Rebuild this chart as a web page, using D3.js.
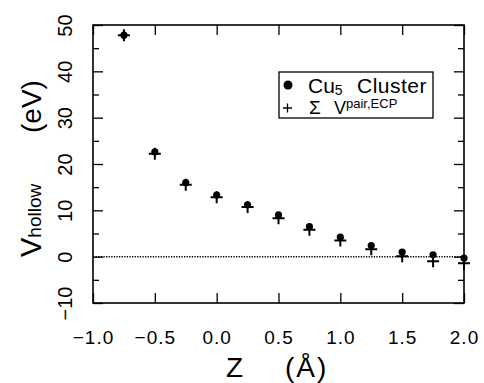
<!DOCTYPE html>
<html>
<head>
<meta charset="utf-8">
<script src="https://cdn.jsdelivr.net/npm/d3@7/dist/d3.min.js"></script>
<style>
  body { margin: 0; background: #fff; }
  svg { display: block; }
  text { font-family: "Liberation Sans", Arial, sans-serif; fill: #000; }
  .axis path { display: none; }
  .axis line { stroke: #000; stroke-width: 1.3; }
</style>
</head>
<body>
<script>
//data
var zValues = [-0.75, -0.5, -0.25, 0, 0.25, 0.5, 0.75, 1.0, 1.25, 1.5, 1.75, 2.0];
var clusterValues = [47.8, 22.6, 16.0, 13.3, 11.2, 9.0, 6.5, 4.2, 2.4, 1.0, 0.4, -0.3];
var pairValues = [47.8, 22.2, 15.5, 12.8, 10.7, 8.3, 5.8, 3.5, 1.6, 0.1, -1.0, -1.4];
var xTicks = [-1.0, -0.5, 0, 0.5, 1.0, 1.5, 2.0];
var yTicks = [-10, 0, 10, 20, 30, 40, 50];
var yMinorTicks = [-5, 5, 15, 25, 35, 45];

window.onload = drawChart();

function drawChart(){
    var width = 484,
        height = 383,
        left = 93,
        right = 464,
        top = 25,
        bottom = 303;

    var svg = d3.select("body")
        .append("svg")
        .attr("width", width)
        .attr("height", height);

    var x = d3.scaleLinear().domain([-1, 2]).range([left, right]);
    var y = d3.scaleLinear().domain([-10, 50]).range([bottom, top]);

    //ticks pointing inward on all four sides
    var fmtX = d3.format(".1f");
    var fmtY = d3.format("d");

    svg.append("g")
        .attr("class", "axis")
        .attr("transform", "translate(0," + bottom + ")")
        .call(d3.axisBottom(x).tickValues(xTicks).tickFormat(fmtX)
            .tickSizeInner(-10).tickSizeOuter(0).tickPadding(28))
        .selectAll("text")
        .style("font-size", "19px")
        .style("letter-spacing", "1px");

    svg.append("g")
        .attr("class", "axis")
        .attr("transform", "translate(0," + top + ")")
        .call(d3.axisTop(x).tickValues(xTicks).tickFormat("")
            .tickSizeInner(-10).tickSizeOuter(0));

    var yLeft = svg.append("g")
        .attr("class", "axis")
        .attr("transform", "translate(" + left + ",0)")
        .call(d3.axisLeft(y).tickValues(yTicks).tickFormat(fmtY)
            .tickSizeInner(-10).tickSizeOuter(0));
    yLeft.selectAll("text")
        .attr("x", null)
        .attr("dy", null)
        .attr("text-anchor", "middle")
        .attr("transform", "translate(-21,0) rotate(-90)")
        .style("font-size", "20px");

    svg.append("g")
        .attr("class", "axis")
        .attr("transform", "translate(" + left + ",0)")
        .call(d3.axisLeft(y).tickValues(yMinorTicks).tickFormat("")
            .tickSizeInner(-6).tickSizeOuter(0));

    svg.append("g")
        .attr("class", "axis")
        .attr("transform", "translate(" + right + ",0)")
        .call(d3.axisRight(y).tickValues(yTicks).tickFormat("")
            .tickSizeInner(-10).tickSizeOuter(0));

    svg.append("g")
        .attr("class", "axis")
        .attr("transform", "translate(" + right + ",0)")
        .call(d3.axisRight(y).tickValues(yMinorTicks).tickFormat("")
            .tickSizeInner(-6).tickSizeOuter(0));

    //frame
    svg.append("rect")
        .attr("x", left)
        .attr("y", top)
        .attr("width", right - left)
        .attr("height", bottom - top)
        .attr("fill", "none")
        .attr("stroke", "#000")
        .attr("stroke-width", 1.6);

    //dotted zero line
    svg.append("line")
        .attr("x1", left)
        .attr("x2", right)
        .attr("y1", y(0))
        .attr("y2", y(0))
        .attr("stroke", "#000")
        .attr("stroke-width", 1.5)
        .attr("stroke-dasharray", "1.3,1.3");

    //cluster points (filled dots)
    svg.selectAll(".dot")
        .data(zValues)
        .enter()
        .append("circle")
        .attr("class", "dot")
        .attr("cx", function(d){ return x(d); })
        .attr("cy", function(d, i){ return y(clusterValues[i]); })
        .attr("r", 3.6)
        .attr("fill", "#000");

    //pair sum points (plus signs)
    svg.selectAll(".plus")
        .data(zValues)
        .enter()
        .append("path")
        .attr("class", "plus")
        .attr("d", function(d, i){
            var cx = x(d), cy = y(pairValues[i]), s = 6;
            return "M" + (cx - s) + "," + cy + "H" + (cx + s) +
                   "M" + cx + "," + (cy - s) + "V" + (cy + s);
        })
        .attr("stroke", "#000")
        .attr("stroke-width", 2)
        .attr("fill", "none");

    //axis titles
    svg.append("text")
        .attr("x", 226)
        .attr("y", 377)
        .style("font-size", "28px")
        .text("Z");
    svg.append("text")
        .attr("x", 285)
        .attr("y", 377)
        .style("font-size", "28px")
        .style("letter-spacing", "2px")
        .text("(Å)");

    var yTitle = svg.append("text")
        .attr("transform", "translate(41,257) rotate(-90)");
    yTitle.append("tspan").style("font-size", "29px").text("V");
    yTitle.append("tspan").style("font-size", "19px").text("hollow");
    svg.append("text")
        .attr("transform", "translate(41,133) rotate(-90)")
        .style("font-size", "28px")
        .text("(eV)");

    //legend
    var legend = svg.append("g");
    legend.append("rect")
        .attr("x", 279)
        .attr("y", 72)
        .attr("width", 154)
        .attr("height", 46)
        .attr("fill", "#fff")
        .attr("stroke", "#000")
        .attr("stroke-width", 1.3);
    legend.append("circle")
        .attr("cx", 288)
        .attr("cy", 85)
        .attr("r", 4.5)
        .attr("fill", "#000");
    var t1 = legend.append("text")
        .attr("x", 308)
        .attr("y", 93)
        .style("font-size", "21px");
    t1.append("tspan").text("Cu");
    t1.append("tspan").attr("dy", 2).style("font-size", "14px").text("5");
    legend.append("text")
        .attr("x", 357)
        .attr("y", 93)
        .style("font-size", "21px")
        .style("letter-spacing", "0.5px")
        .text("Cluster");
    legend.append("path")
        .attr("d", "M283,108H292M287.5,103.5V112.5")
        .attr("stroke", "#000")
        .attr("stroke-width", 1.3);
    legend.append("text")
        .attr("x", 309)
        .attr("y", 114)
        .style("font-size", "19px")
        .text("Σ");
    var t2 = legend.append("text")
        .attr("x", 334)
        .attr("y", 114);
    t2.append("tspan").style("font-size", "18px").text("V");
    t2.append("tspan").attr("dy", -6).style("font-size", "13px").text("pair,ECP");
}
</script>
</body>
</html>
